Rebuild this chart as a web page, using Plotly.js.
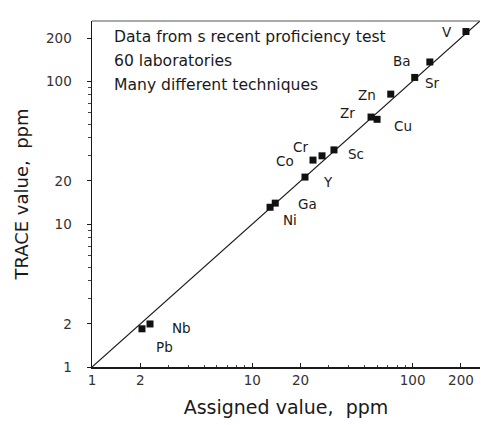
<!DOCTYPE html>
<html>
<head>
<meta charset="utf-8">
<script src="https://cdn.plot.ly/plotly-3.0.1.min.js"></script>
<style>
  html, body { margin: 0; padding: 0; background: #fff; }
  #chart { width: 481px; height: 425px; }
</style>
</head>
<body>
<div id="chart"></div>
<script>
// Proficiency test: TRACE result vs assigned value for each element (ppm)
const elements    = ['V', 'Ba', 'Sr', 'Zn', 'Zr', 'Cu', 'Sc', 'Cr', 'Co', 'Y', 'Ga', 'Ni', 'Nb', 'Pb'];
const assigned    = [215, 128, 103, 73, 55, 60, 32.3, 27.2, 23.9, 21.3, 13.9, 12.9, 2.3, 2.05];
const traceValues = [222, 136, 106, 81, 56, 54, 33, 30, 28, 21.3, 14.0, 13.1, 2.0, 1.85];

// 1:1 reference line
const equalityLine = [1, 1000];

// axis ticks
const tickValues = [1, 2, 10, 20, 100, 200];
const tickLabels = ['1', '2', '10', '20', '100', '200'];
const minorTicks = [3, 4, 5, 6, 7, 8, 9, 30, 40, 50, 60, 70, 80, 90];

// note lines in the upper-left corner
const noteLines = ['Data from s recent proficiency test', '60 laboratories', 'Many different techniques'];

// pixel offsets of each element label from its marker [dx, dy down]
const labelOffset = {
  V: [-19, 0], Ba: [-28, -1], Sr: [18, 6], Zn: [-24, 1], Zr: [-24, -4], Cu: [26, 7],
  Sc: [22, 4], Cr: [-22, -9], Co: [-28, 1], Y: [23, 5], Ga: [32, 1], Ni: [20, 13],
  Nb: [31, 4], Pb: [23, 18]
};

const FONT = 'DejaVu Sans, sans-serif';
const INK = '#1a1a1a';

const traces = [
  {
    x: equalityLine, y: equalityLine,
    type: 'scatter', mode: 'lines',
    line: { color: INK, width: 1.2 },
    hoverinfo: 'skip', showlegend: false
  },
  {
    x: assigned, y: traceValues, text: elements,
    type: 'scatter', mode: 'markers',
    marker: { symbol: 'square', size: 7, color: '#111' },
    cliponaxis: false, showlegend: false
  }
];

const annotations = elements.map((el, i) => ({
  x: Math.log10(assigned[i]), y: Math.log10(traceValues[i]),
  xref: 'x', yref: 'y',
  text: el, showarrow: false,
  xshift: labelOffset[el][0], yshift: -labelOffset[el][1],
  font: { family: FONT, size: 13.5, color: INK }
}));

const noteY = [0.955, 0.884, 0.815];
noteLines.forEach((line, i) => {
  annotations.push({
    x: 0.052, y: noteY[i], xref: 'paper', yref: 'paper',
    xanchor: 'left', yanchor: 'middle',
    text: line, showarrow: false,
    font: { family: FONT, size: 15.6, color: INK }
  });
});

const layout = {
  width: 481, height: 425,
  margin: { l: 92, r: 1, t: 21, b: 58 },
  paper_bgcolor: '#fff', plot_bgcolor: '#fff',
  font: { family: FONT, color: INK },
  xaxis: {
    type: 'log', range: [0, 2.42],
    tickvals: tickValues, ticktext: tickLabels,
    ticks: 'inside', ticklen: 4, tickwidth: 1, tickcolor: INK,
    minor: { tickvals: minorTicks, ticks: 'inside', ticklen: 2.5, tickcolor: '#444' },
    showline: true, linecolor: INK, linewidth: 1.5,
    showgrid: false, zeroline: false,
    tickfont: { family: FONT, size: 13.5, color: '#333' },
    title: { text: 'Assigned value,  ppm', font: { family: FONT, size: 19, color: INK }, standoff: 14 }
  },
  yaxis: {
    type: 'log', range: [0, 2.42],
    tickvals: tickValues, ticktext: tickLabels,
    ticks: 'outside', ticklen: 4, tickwidth: 1, tickcolor: INK,
    minor: { tickvals: minorTicks, ticks: 'outside', ticklen: 2.5, tickcolor: '#444' },
    showline: true, linecolor: INK, linewidth: 1.5,
    showgrid: false, zeroline: false,
    ticklabelstandoff: 12,
    tickfont: { family: FONT, size: 13.5, color: '#333' },
    title: { text: 'TRACE value,  ppm', font: { family: FONT, size: 18, color: INK }, standoff: 12 }
  },
  shapes: [
    { type: 'line', xref: 'paper', yref: 'paper', x0: 0, x1: 1, y0: 1, y1: 1,
      line: { color: '#555', width: 1 } }
  ],
  annotations: annotations
};

Plotly.newPlot('chart', traces, layout, { displayModeBar: false, staticPlot: true });
</script>
</body>
</html>
